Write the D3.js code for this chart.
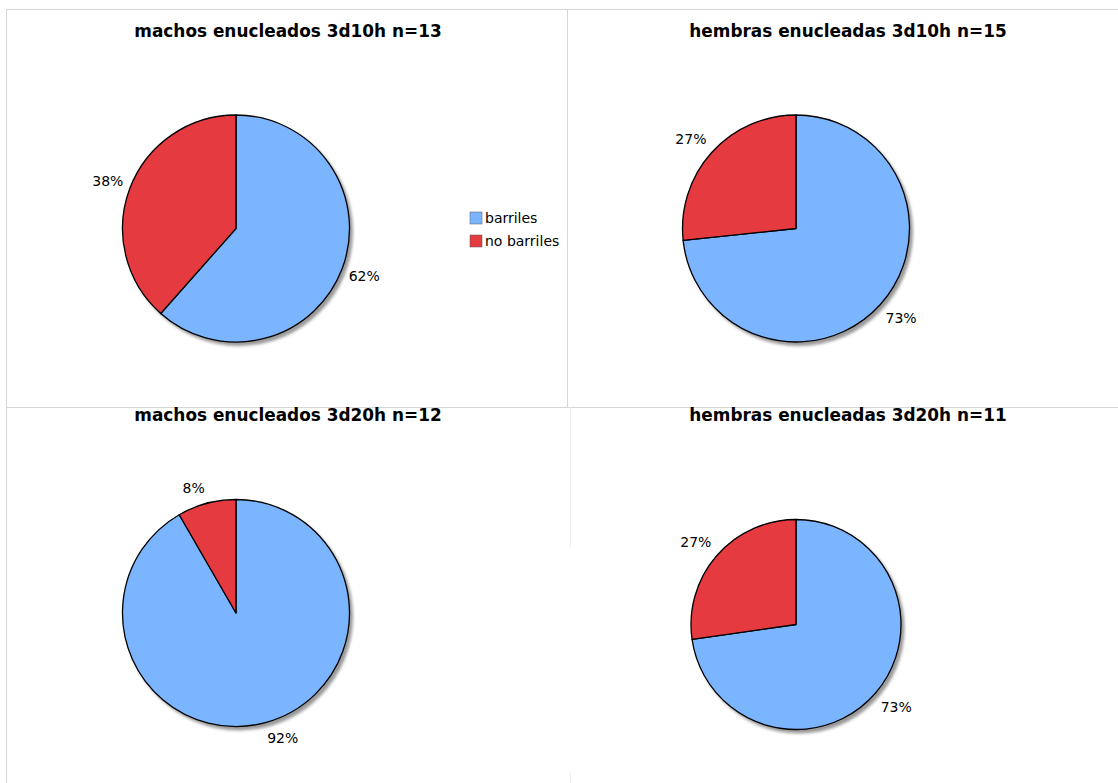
<!DOCTYPE html>
<html><head><meta charset="utf-8">
<script src="https://cdn.jsdelivr.net/npm/d3@7"></script>
<style>html,body{margin:0;padding:0;background:#fff;}svg{display:block;}</style>
</head><body>
<script>
// ---- data ----
const titles = ["machos enucleados 3d10h n=13", "hembras enucleadas 3d10h n=15",
                "machos enucleados 3d20h n=12", "hembras enucleadas 3d20h n=11"];
const categories = ["barriles", "no barriles"];
const barriles   = [8, 11, 11, 8];
const noBarriles = [5, 4, 1, 3];
const colors = ["#7bb5ff", "#e53a40"];

// ---- layout ----
const W = 1118, H = 783;
const panels = [
  {cx: 236, cy: 228.5, r: 113.5, tx: 288, ty: 31},
  {cx: 796, cy: 228.5, r: 113.5, tx: 848, ty: 31},
  {cx: 236, cy: 613,   r: 113.5, tx: 288, ty: 415},
  {cx: 796, cy: 624.5, r: 105,   tx: 848, ty: 415}
];

const svg = d3.select("body").append("svg").attr("width", W).attr("height", H);
const defs = svg.append("defs");
defs.append("filter").attr("id", "blur").attr("x", "-10%").attr("y", "-10%").attr("width", "120%").attr("height", "120%")
  .append("feGaussianBlur").attr("stdDeviation", 1.6);

// panel borders
const grid = svg.append("g").attr("stroke", "#d6d6d6").attr("stroke-width", 1).attr("fill", "none");
grid.append("line").attr("x1", 6).attr("x2", W).attr("y1", 9.5).attr("y2", 9.5);
grid.append("line").attr("x1", 6).attr("x2", W).attr("y1", 407.5).attr("y2", 407.5);
grid.append("line").attr("x1", 6.5).attr("x2", 6.5).attr("y1", 9).attr("y2", H);
grid.append("line").attr("x1", 567.5).attr("x2", 567.5).attr("y1", 9).attr("y2", 407);
svg.append("g").attr("stroke", "#ededed").attr("stroke-width", 1)
  .selectAll("line").data([[407, 547], [772, 783]]).join("line")
  .attr("x1", 570.5).attr("x2", 570.5).attr("y1", d => d[0]).attr("y2", d => d[1]);

const pie = d3.pie().sort(null).startAngle(0).endAngle(2 * Math.PI);
const font = "'DejaVu Sans', Verdana, sans-serif";

panels.forEach((p, i) => {
  const vals = [barriles[i], noBarriles[i]];
  const total = d3.sum(vals);
  const g = svg.append("g").attr("transform", `translate(${p.cx},${p.cy})`);
  const arc = d3.arc().innerRadius(0).outerRadius(p.r);

  g.append("circle").attr("cx", 3).attr("cy", 3.5).attr("r", p.r + 0.5)
    .attr("fill", "#9a9a9a").attr("filter", "url(#blur)");

  const arcs = pie(vals);
  g.selectAll("path.slice").data(arcs).join("path")
    .attr("class", "slice")
    .attr("d", arc)
    .attr("fill", (d, j) => colors[j])
    .attr("stroke", "#000").attr("stroke-width", 1.3).attr("stroke-linejoin", "round");

  // labels
  const D = p.r + 7;
  arcs.forEach((d, j) => {
    const a = (d.startAngle + d.endAngle) / 2;
    const sx = Math.sin(a), sy = -Math.cos(a);
    const px = D * sx, py = D * sy;
    const oy = Math.sign(sy) * Math.min(9, 14 * Math.abs(sy));
    g.append("text")
      .attr("x", px).attr("y", py + oy).attr("dy", "0.36em")
      .attr("text-anchor", sx >= 0 ? "start" : "end")
      .attr("font-family", font).attr("font-size", 14).attr("fill", "#000")
      .text(Math.round(vals[j] / total * 100) + "%");
  });

  svg.append("text").attr("x", p.tx).attr("y", p.ty).attr("dy", "0.35em")
    .attr("text-anchor", "middle")
    .attr("font-family", font).attr("font-weight", "bold").attr("font-size", 16.9)
    .attr("fill", "#000").text(titles[i]);
});

// legend
const lg = svg.append("g").attr("transform", "translate(470,212)");
categories.forEach((c, j) => {
  lg.append("rect").attr("x", 0).attr("y", j * 23).attr("width", 12).attr("height", 12)
    .attr("fill", colors[j]).attr("stroke", "#555").attr("stroke-width", 0.5);
  lg.append("text").attr("x", 15).attr("y", j * 23 + 6).attr("dy", "0.35em")
    .attr("font-family", font).attr("font-size", 14).attr("fill", "#000").text(c);
});
</script>
</body></html>
